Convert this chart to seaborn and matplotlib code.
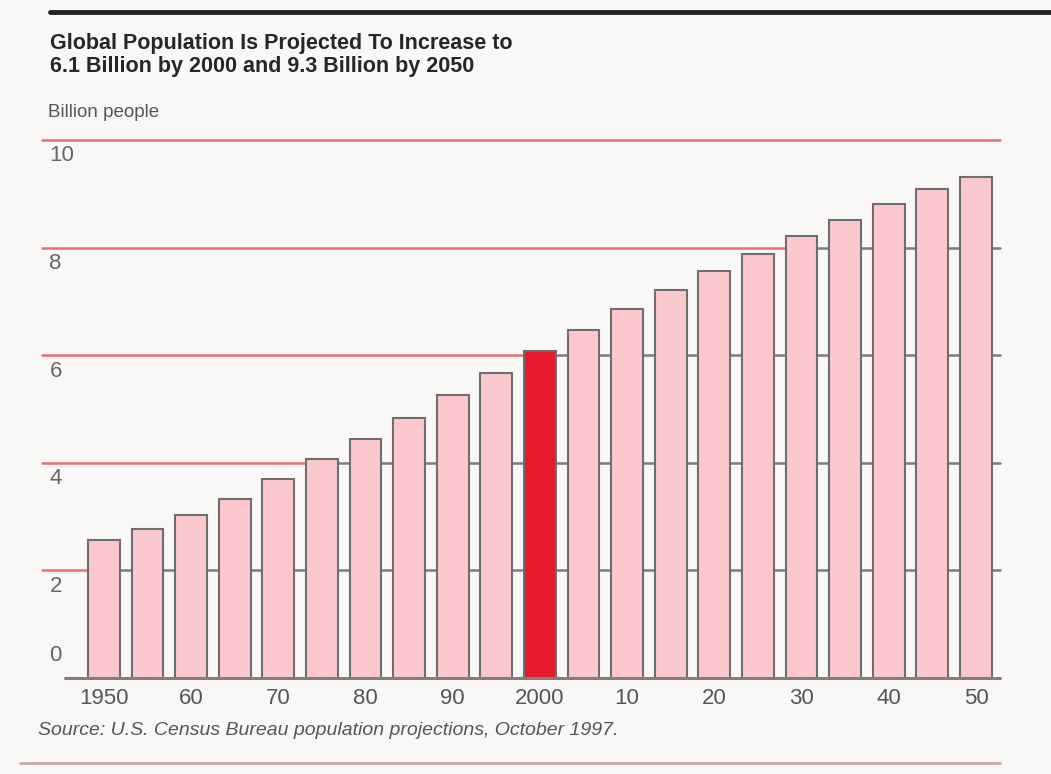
import pandas as pd
import numpy as np
import matplotlib.pyplot as plt
import seaborn as sns

# Datos (miles de millones de personas)
years = [1950, 1955, 1960, 1965, 1970, 1975, 1980, 1985, 1990, 1995, 2000,
         2005, 2010, 2015, 2020, 2025, 2030, 2035, 2040, 2045, 2050]
population = [2.56, 2.77, 3.03, 3.33, 3.69, 4.07, 4.44, 4.84, 5.26, 5.66, 6.08,
              6.47, 6.85, 7.22, 7.56, 7.89, 8.21, 8.52, 8.81, 9.08, 9.31]
tick_labels = ['1950', '60', '70', '80', '90', '2000', '10', '20', '30', '40', '50']
y_ticks = [0, 2, 4, 6, 8, 10]
highlight = 2000

title = 'Global Population Is Projected To Increase to\n6.1 Billion by 2000 and 9.3 Billion by 2050'
unit_label = 'Billion people'
source = 'Source: U.S. Census Bureau population projections, October 1997.'

pink = '#fbc8ce'
red = '#e8192c'
grid_red = '#ef6f6f'
grid_gray = '#7c7c7c'
bg = '#faf7f7'

df = pd.DataFrame({'year': [str(y) for y in years], 'pop': population})
colors = {str(y): (red if y == highlight else pink) for y in years}

sns.set_style('white')
plt.rcParams['font.family'] = ['Liberation Sans', 'DejaVu Sans']

fig = plt.figure(figsize=(10.51, 7.74), dpi=100, facecolor=bg)
W, H = 1051, 774
ax = fig.add_axes([42 / W, 1 - 678 / H, (1003 - 42) / W, (678 - 140) / H])
ax.set_facecolor(bg)

sns.barplot(data=df, x='year', y='pop', hue='year', palette=colors, legend=False,
            width=0.73, edgecolor='#6e6e6e', linewidth=1.5, saturation=1,
            ax=ax, zorder=3)

ax.set_xlim(-1.42, 20.62)
ax.set_ylim(0, 10)
for s in ax.spines.values():
    s.set_visible(False)

# lineas de la reticula: rojas encima de las barras, grises entre ellas
half = 0.73 / 2
for g in y_ticks[1:]:
    above = [i for i, v in enumerate(population) if v > g]
    if above:
        xr = above[0] - half
        ax.plot([-1.42, xr], [g, g], color=grid_red, lw=1.8, zorder=2, clip_on=False)
        ax.plot([xr, 20.55], [g, g], color=grid_gray, lw=1.8, zorder=1, clip_on=False)
    else:
        ax.plot([-1.42, 20.55], [g, g], color=grid_red, lw=1.8, zorder=2, clip_on=False)
ax.plot([-0.89, 20.55], [0, 0], color='#8a7a7a', lw=2.2, zorder=4, clip_on=False)

# etiquetas del eje y
for g in y_ticks:
    if g == 0:
        ax.text(-1.25, 0.22, str(g), ha='left', va='bottom', fontsize=16, color='#666666')
    else:
        ax.text(-1.25, g - 0.1, str(g), ha='left', va='top', fontsize=16, color='#666666')
ax.set_yticks([])

ax.set_xticks(range(0, len(years), 2))
ax.set_xticklabels(tick_labels, fontsize=16, color='#555555')
ax.tick_params(axis='x', length=0, pad=7)
ax.set_xlabel('')
ax.set_ylabel('')

fig.text(50 / W, 1 - 33 / H, title, ha='left', va='top', fontsize=15.5,
         fontweight='bold', color='#262626', linespacing=1.1)
fig.text(48 / W, 1 - 104 / H, unit_label, ha='left', va='top', fontsize=13.5, color='#555555')
fig.text(38 / W, 1 - 722 / H, source, ha='left', va='top', fontsize=14,
         style='italic', color='#555555')

# reglas superior e inferior
fig.add_artist(plt.Line2D([50 / W, 1.0], [1 - 12 / H, 1 - 12 / H], color='#222222', lw=3.5))
fig.add_artist(plt.Line2D([20 / W, 1000 / W], [1 - 763 / H, 1 - 763 / H], color='#c9aaaa', lw=2))

plt.savefig('out.png', dpi=100, facecolor=bg)
